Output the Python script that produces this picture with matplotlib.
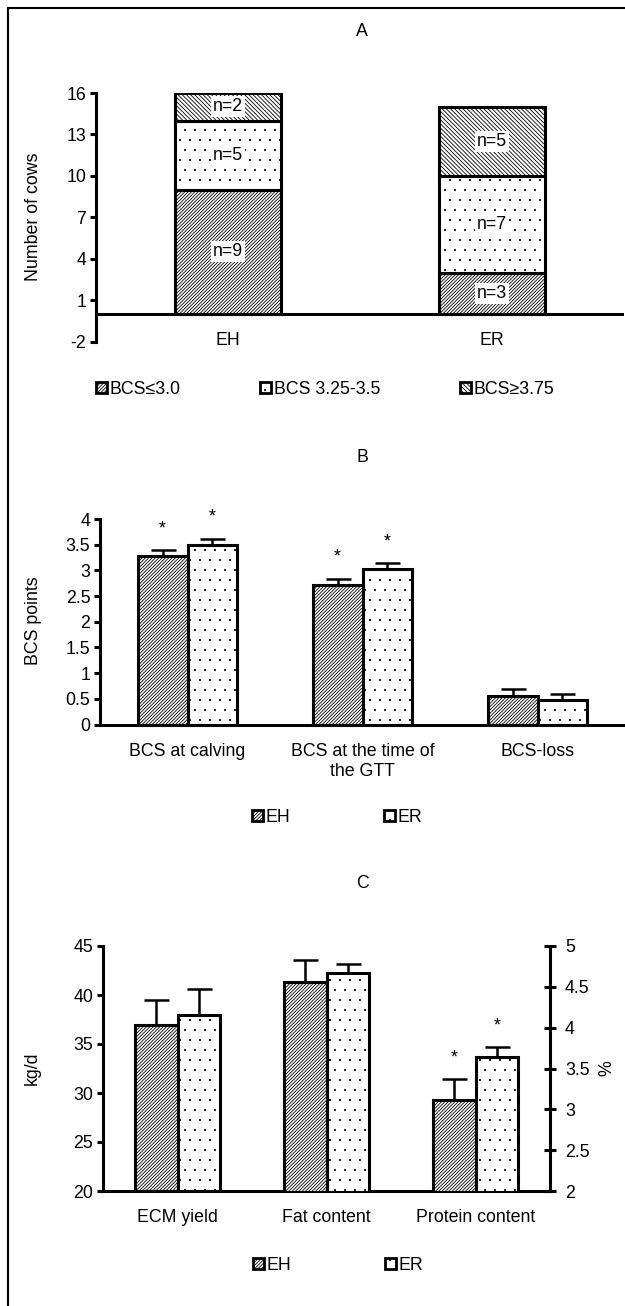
import matplotlib
matplotlib.use('Agg')
import matplotlib.pyplot as plt
import matplotlib.hatch as mhatch
from matplotlib.patches import Patch, Rectangle
import numpy as np

plt.rcParams['font.family'] = ['Liberation Sans', 'DejaVu Sans']
plt.rcParams['hatch.linewidth'] = 0.6

# slightly sparser, smaller dots for the dotted fill (even row count required)
def _dots_init(self, hatch, density):
    n = int(round(hatch.count('.') * density * 5 / 6))
    if n % 2:
        n += 1
    self.num_rows = n
    mhatch.Circles.__init__(self, hatch, density)
mhatch.SmallFilledCircles.__init__ = _dots_init
mhatch.SmallFilledCircles.size = 0.06

# ---------------- data ----------------
# Panel A: number of cows per BCS class
groups_A = ['EH', 'ER']
bcs_classes = ['BCS≤3.0', 'BCS 3.25-3.5', 'BCS≥3.75']
counts_low = [9, 3]
counts_mid = [5, 7]
counts_high = [2, 5]
yticks_A = [-2, 1, 4, 7, 10, 13, 16]

# Panel B: BCS points
cats_B = ['BCS at calving', 'BCS at the time of\nthe GTT', 'BCS-loss']
eh_bcs = [3.28, 2.72, 0.56]
eh_bcs_err = [0.11, 0.12, 0.13]
er_bcs = [3.50, 3.03, 0.48]
er_bcs_err = [0.12, 0.11, 0.11]
sig_B = [True, True, False]
yticks_B = [0, 0.5, 1, 1.5, 2, 2.5, 3, 3.5, 4]

# Panel C: milk
cats_C = ['ECM yield', 'Fat content', 'Protein content']
eh_ecm = [36.9]
eh_ecm_err = [2.6]
er_ecm = [38.0]
er_ecm_err = [2.6]
eh_pct = [4.56, 3.12]          # fat, protein (%)
eh_pct_err = [0.27, 0.25]
er_pct = [4.67, 3.64]
er_pct_err = [0.11, 0.12]
sig_C = [False, False, True]
yticks_C = [20, 25, 30, 35, 40, 45]
yticks_C2 = [2, 2.5, 3, 3.5, 4, 4.5, 5]

groups = ['EH', 'ER']

# ---------------- style ----------------
W, H = 625, 1306
FS = 12.8
TFS = 12.8
LW = 2.2
H_LOW = '/' * 10
H_MID = '..'
H_HIGH = '\\' * 8

fig = plt.figure(figsize=(W / 100, H / 100), dpi=100)

def fx(px):
    return px / W

def fy(py):
    return 1 - py / H

def fmt(v):
    return ('%g' % v)

def style_left(ax):
    for s in ['top', 'right']:
        ax.spines[s].set_visible(False)
    ax.spines['left'].set_linewidth(LW)
    ax.spines['bottom'].set_linewidth(LW)
    ax.tick_params(axis='y', direction='out', length=4.5, width=LW,
                   labelsize=TFS, pad=2.5)

# ---------------- Panel A ----------------
axA = fig.add_axes([fx(96), fy(341.6), fx(624) - fx(96), fy(93) - fy(341.6)])
xA = np.arange(len(groups_A))
bottom = np.zeros(len(groups_A))
for vals, hatch in zip([counts_low, counts_mid, counts_high], [H_LOW, H_MID, H_HIGH]):
    bars = axA.bar(xA, vals, width=0.4, bottom=bottom, facecolor='white',
                   edgecolor='black', linewidth=LW, hatch=hatch, zorder=2)
    for rect, v in zip(bars, vals):
        axA.text(rect.get_x() + rect.get_width() / 2,
                 rect.get_y() + rect.get_height() / 2, 'n=%d' % v,
                 ha='center', va='center', fontsize=FS, zorder=4,
                 bbox=dict(boxstyle='square,pad=0.12', fc='white', ec='none'))
    bottom = bottom + np.array(vals)
axA.set_xlim(-0.5, 1.5)
axA.set_ylim(-2, 16)
axA.set_yticks(yticks_A)
axA.set_yticklabels([fmt(v) for v in yticks_A])
style_left(axA)
axA.spines['bottom'].set_visible(False)
axA.axhline(0, color='black', lw=LW, zorder=3)
axA.set_xticks(xA)
axA.set_xticklabels(groups_A, fontsize=FS)
axA.tick_params(axis='x', length=0, pad=-7)
fig.text(fx(362), fy(32), 'A', ha='center', va='center', fontsize=FS)
fig.text(fx(33), fy(217), 'Number of cows', rotation=90, ha='center',
         va='center', fontsize=FS)
handlesA = [Patch(facecolor='white', edgecolor='black', linewidth=2, hatch=h)
            for h in [H_LOW, H_MID, H_HIGH]]
fig.legend(handlesA, bcs_classes, loc='center left',
           bbox_to_anchor=(fx(96), fy(389)), ncol=3, frameon=False,
           handlelength=0.6, handleheight=0.6, handletextpad=0.15,
           columnspacing=4.5, borderaxespad=0, borderpad=0, fontsize=FS)

# ---------------- Panel B ----------------
ekw = dict(ecolor='black', elinewidth=1.8, capsize=9, capthick=1.8, zorder=3)
axB = fig.add_axes([fx(100), fy(724.5), fx(625) - fx(100), fy(519) - fy(724.5)])
xB = np.arange(len(cats_B))
wB = 0.2857
z3 = [0] * len(cats_B)
axB.bar(xB - wB / 2, eh_bcs, wB, yerr=[z3, eh_bcs_err], facecolor='white',
        edgecolor='black', linewidth=LW, hatch=H_LOW, error_kw=ekw, zorder=2)
axB.bar(xB + wB / 2, er_bcs, wB, yerr=[z3, er_bcs_err], facecolor='white',
        edgecolor='black', linewidth=LW, hatch=H_MID, error_kw=ekw, zorder=2)
for i, s in enumerate(sig_B):
    if s:
        for xx, m, e in [(xB[i] - wB / 2, eh_bcs[i], eh_bcs_err[i]),
                         (xB[i] + wB / 2, er_bcs[i], er_bcs_err[i])]:
            axB.annotate('*', (xx, m + e), xytext=(0, 12), textcoords='offset points',
                         ha='center', va='baseline', fontsize=FS, annotation_clip=False)
axB.set_xlim(-0.5, 2.5)
axB.set_ylim(0, 4)
axB.set_yticks(yticks_B)
axB.set_yticklabels([fmt(v) for v in yticks_B])
style_left(axB)
axB.set_xticks(xB)
axB.set_xticklabels(cats_B, fontsize=FS, linespacing=1.25)
axB.tick_params(axis='x', length=0, pad=13)
fig.text(fx(362), fy(457), 'B', ha='center', va='center', fontsize=FS)
fig.text(fx(33), fy(621), 'BCS points', rotation=90, ha='center',
         va='center', fontsize=FS)
handlesG = [Patch(facecolor='white', edgecolor='black', linewidth=2, hatch=h)
            for h in [H_LOW, H_MID]]
fig.legend(handlesG, groups, loc='center left',
           bbox_to_anchor=(fx(252), fy(817)), ncol=2, frameon=False,
           handlelength=0.6, handleheight=0.6, handletextpad=0.15,
           columnspacing=5.3, borderaxespad=0, borderpad=0, fontsize=FS)

# ---------------- Panel C ----------------
axC = fig.add_axes([fx(103), fy(1191), fx(550) - fx(103), fy(946) - fy(1191)])
ax2 = axC.twinx()
xC = np.arange(len(cats_C))
wC = 0.2857
axC.bar(xC[:1] - wC / 2, eh_ecm, wC, yerr=[[0], eh_ecm_err], facecolor='white',
        edgecolor='black', linewidth=LW, hatch=H_LOW, error_kw=ekw, zorder=2)
axC.bar(xC[:1] + wC / 2, er_ecm, wC, yerr=[[0], er_ecm_err], facecolor='white',
        edgecolor='black', linewidth=LW, hatch=H_MID, error_kw=ekw, zorder=2)
ax2.bar(xC[1:] - wC / 2, eh_pct, wC, yerr=[[0, 0], eh_pct_err], facecolor='white',
        edgecolor='black', linewidth=LW, hatch=H_LOW, error_kw=ekw, zorder=2)
ax2.bar(xC[1:] + wC / 2, er_pct, wC, yerr=[[0, 0], er_pct_err], facecolor='white',
        edgecolor='black', linewidth=LW, hatch=H_MID, error_kw=ekw, zorder=2)
for i, s in enumerate(sig_C):
    if s:
        j = i - 1
        for xx, m, e in [(xC[i] - wC / 2, eh_pct[j], eh_pct_err[j]),
                         (xC[i] + wC / 2, er_pct[j], er_pct_err[j])]:
            ax2.annotate('*', (xx, m + e), xytext=(0, 12), textcoords='offset points',
                         ha='center', va='baseline', fontsize=FS, annotation_clip=False)
axC.set_xlim(-0.5, 2.5)
axC.set_ylim(20, 45)
axC.set_yticks(yticks_C)
axC.set_yticklabels([fmt(v) for v in yticks_C])
style_left(axC)
axC.set_xticks(xC)
axC.set_xticklabels(cats_C, fontsize=FS)
axC.tick_params(axis='x', length=0, pad=13)
ax2.set_ylim(2, 5)
ax2.set_yticks(yticks_C2)
ax2.set_yticklabels([fmt(v) for v in yticks_C2])
for s in ['top', 'left', 'bottom']:
    ax2.spines[s].set_visible(False)
ax2.spines['right'].set_linewidth(LW)
ax2.tick_params(axis='y', direction='inout', length=8.5, width=LW,
                labelsize=TFS, pad=6.5)
fig.text(fx(362), fy(884), 'C', ha='center', va='center', fontsize=FS)
fig.text(fx(32), fy(1068), 'kg/d', rotation=90, ha='center',
         va='center', fontsize=FS)
fig.text(fx(607), fy(1068), '%', rotation=90, ha='center',
         va='center', fontsize=FS)
fig.legend(handlesG, groups, loc='center left',
           bbox_to_anchor=(fx(253), fy(1265)), ncol=2, frameon=False,
           handlelength=0.6, handleheight=0.6, handletextpad=0.15,
           columnspacing=5.3, borderaxespad=0, borderpad=0, fontsize=FS)

# frame around the figure (cropped at right and bottom)
fig.add_artist(Rectangle((fx(8), -0.05), 1.2, fy(8) + 0.05, transform=fig.transFigure,
                         fill=False, edgecolor='black', linewidth=1.5))

fig.savefig('out.png', dpi=100)
